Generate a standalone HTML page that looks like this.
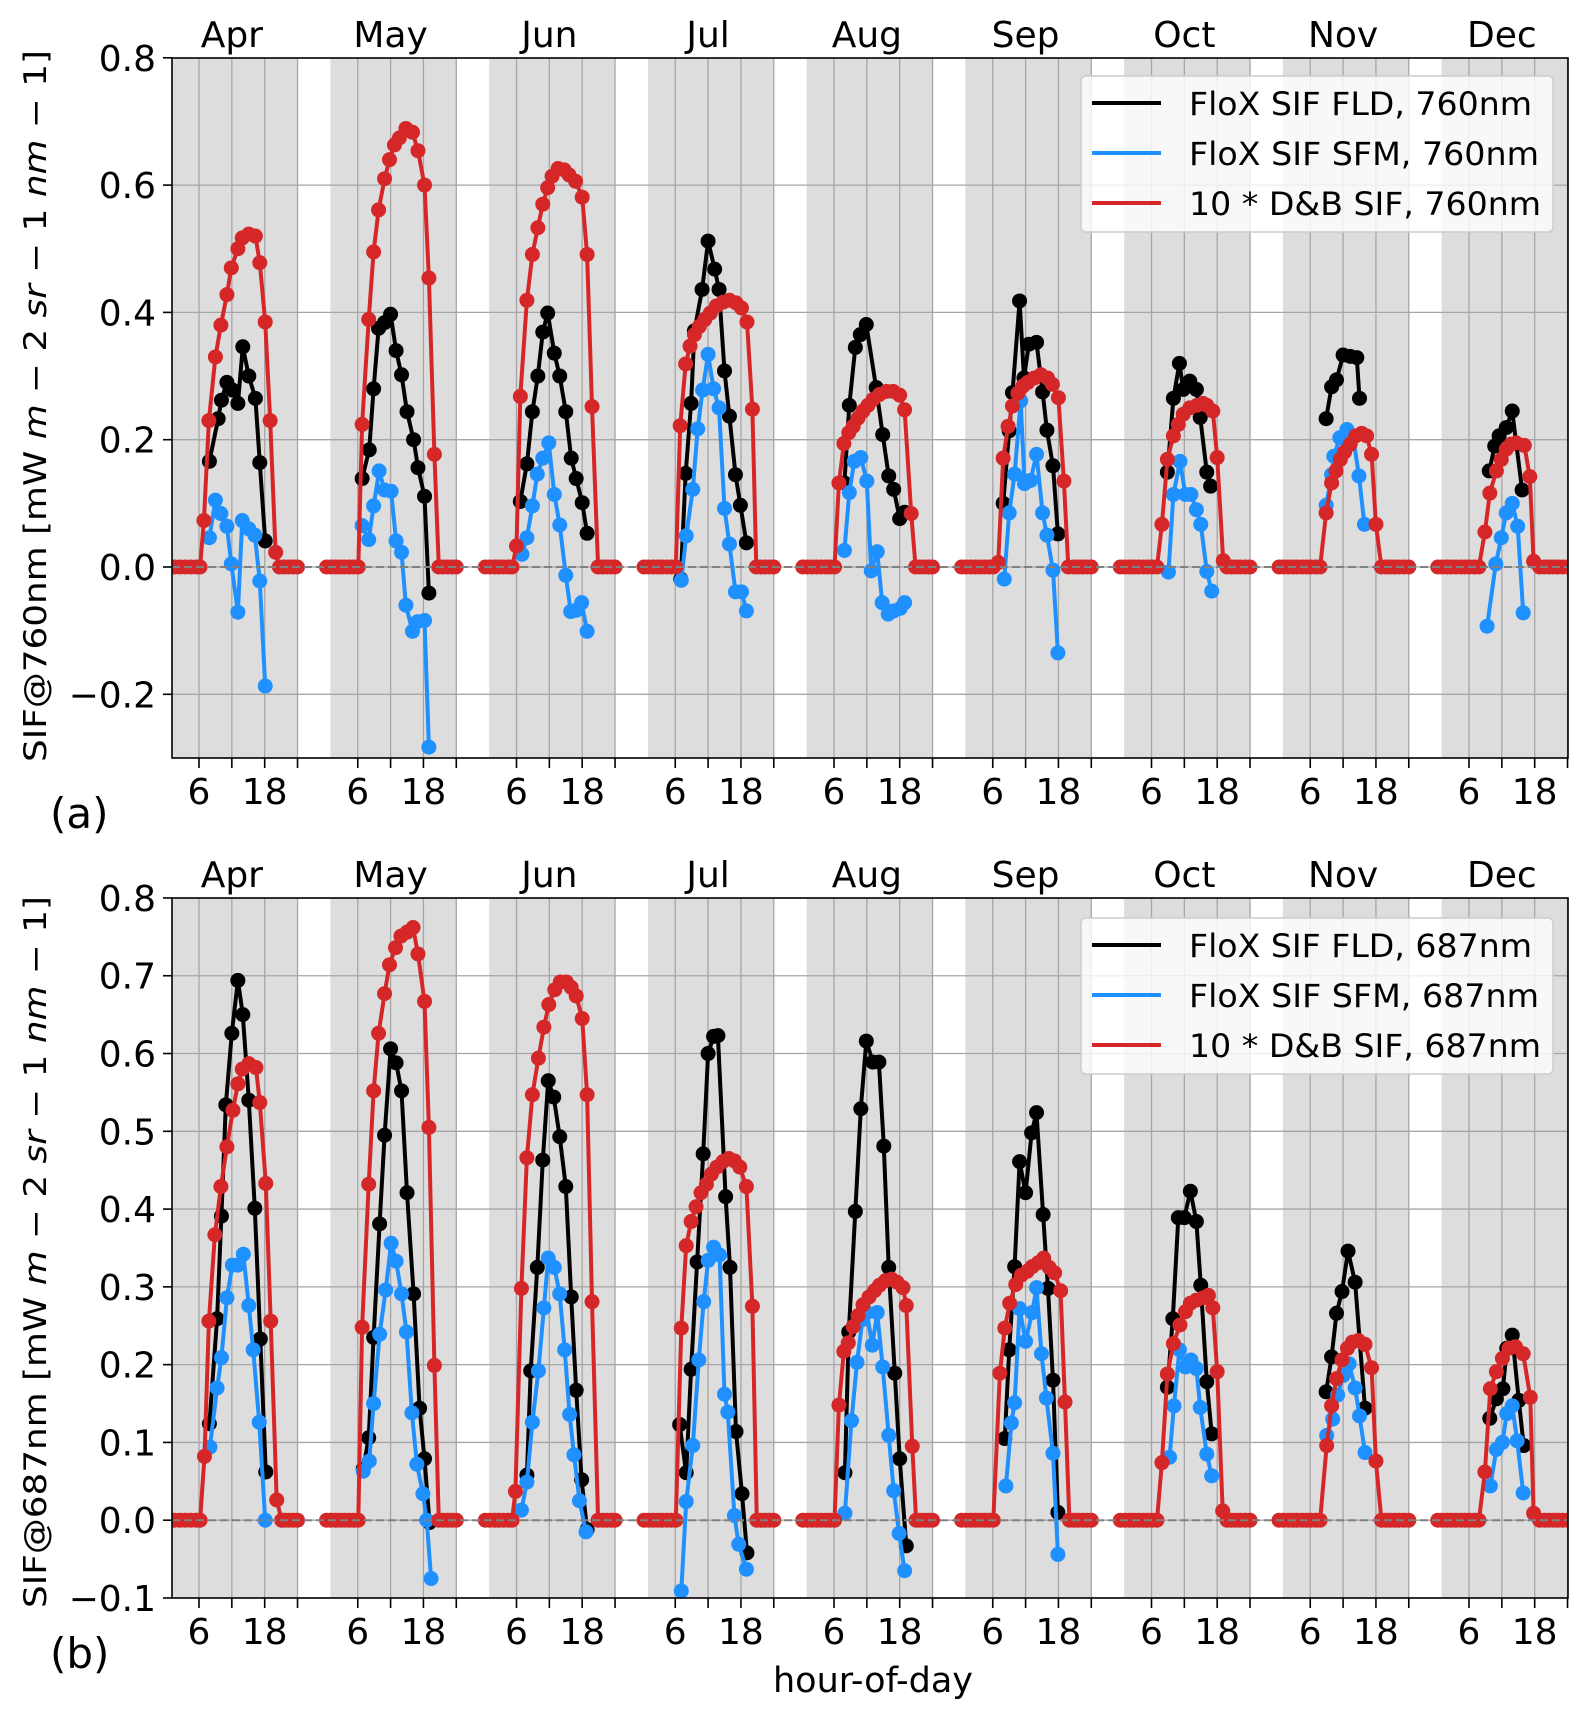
<!DOCTYPE html>
<html><head><meta charset="utf-8">
<style>
html,body{margin:0;padding:0;background:#fff;}
svg{display:block;font-family:"DejaVu Sans","Liberation Sans",sans-serif;}
</style></head>
<body>
<svg id="chart" width="1585" height="1712" viewBox="0 0 1585 1712" xmlns="http://www.w3.org/2000/svg">
<defs>
<clipPath id="clipA"><rect x="172" y="58" width="1396" height="700"/></clipPath>
<clipPath id="clipB"><rect x="172" y="898" width="1396" height="700"/></clipPath>
</defs>
</svg>
<script>
const months = ['Apr','May','Jun','Jul','Aug','Sep','Oct','Nov','Dec'];
const hourTicks = [6,12,18,24];
const hourLabels = [6,18];
const yTicksA = [0.8,0.6,0.4,0.2,0.0,-0.2];
const yTicksB = [0.8,0.7,0.6,0.5,0.4,0.3,0.2,0.1,0.0,-0.1];

const zeroPre = [
 [0.5,1.5,2.5,3.5,4.5,5.5,6.2],[0.3,1.1,2,2.8,3.6,4.5,5.3,6.1],[0.3,1.1,2,2.8,3.6,4.5,5.2],
 [0.3,1.1,2,2.8,3.6,4.5,5.3,6.1],[0.3,1.1,2,2.8,3.6,4.5,5.3,6.1],[0.3,1.1,2,2.8,3.6,4.5,5.3,6.1],
 [0.3,1.1,2,2.8,3.6,4.5,5.3,6.1,7.0],[0.3,1.1,2,2.8,3.6,4.5,5.3,6.1,7.0,7.8],[0.3,1.1,2,2.8,3.6,4.5,5.3,6.1,7.0,7.8]];
const zeroPost = [
 [21.6,22.4,23.2,24],[21.6,22.4,23.2,24],[21.7,22.5,23.3,24],[21.6,22.4,23.2,24],[21.7,22.5,23.3,24],
 [20.8,21.6,22.4,23.2,24],[20.6,21.4,22.2,23.1,24],[19.8,20.6,21.4,22.2,23.1,24],[19.8,20.6,21.4,22.2,23.1,24]];

// Panel (a) 760nm
const aDbH = [
 [6.9,7.8,9.0,10.0,11.1,11.9,13.1,13.9,15.1,16.3,17.1,18.1,19.0,20.0,20.7],
 [6.8,8.0,8.9,9.8,10.9,11.8,12.7,13.6,14.8,16.0,17.0,18.2,19.0,20.0,20.8],
 [6.0,6.7,7.9,8.9,9.9,10.8,11.7,12.5,13.6,14.7,15.6,16.8,18.0,18.9,19.8,20.9],
 [6.9,7.9,8.7,9.5,10.4,11.4,12.4,13.5,14.7,15.9,17.1,18.1,19.1,20.1,20.8],
 [6.9,7.8,8.7,9.5,10.4,11.3,12.2,13.1,14.3,15.6,16.8,18.0,18.9,20.1,20.9],
 [7.0,7.9,8.8,9.6,10.6,11.5,12.4,13.6,14.8,16.0,16.9,18.0,19.0,19.8],
 [7.9,8.9,10.0,10.9,11.8,13.0,14.3,15.4,16.1,17.2,18.0,19.1,19.8],
 [8.9,9.9,10.7,11.5,12.3,13.3,14.3,15.4,16.3,17.2,18.0,19.0],
 [8.9,9.8,11.0,11.9,12.8,13.7,14.6,16.1,17.1,17.8,18.9]];
const aDbV = [
 [0.073,0.23,0.33,0.38,0.428,0.47,0.5,0.517,0.523,0.52,0.478,0.385,0.23,0.023,0],
 [0.224,0.389,0.495,0.561,0.61,0.64,0.663,0.674,0.689,0.683,0.654,0.6,0.454,0.177,0],
 [0.033,0.268,0.419,0.491,0.533,0.570,0.596,0.614,0.626,0.624,0.616,0.606,0.581,0.491,0.252,0],
 [0.222,0.319,0.347,0.365,0.378,0.389,0.399,0.410,0.416,0.419,0.415,0.407,0.385,0.248,0],
 [0.132,0.194,0.211,0.221,0.234,0.245,0.254,0.263,0.271,0.276,0.276,0.270,0.247,0.084,0],
 [0.007,0.171,0.221,0.253,0.273,0.284,0.290,0.297,0.302,0.297,0.287,0.266,0.135,0],
 [0.067,0.169,0.206,0.224,0.240,0.250,0.254,0.257,0.254,0.245,0.172,0.010,0],
 [0.085,0.132,0.151,0.169,0.181,0.193,0.206,0.210,0.206,0.177,0.067,0],
 [0.055,0.116,0.151,0.169,0.185,0.193,0.195,0.191,0.142,0.009,0]];
const aFldH = [
 [7.9,9.5,10.1,11.1,12.1,13.1,14.0,15.1,16.3,17.1,18.1],
 [6.8,8.1,8.9,9.8,10.9,12.0,13.0,14.0,15.0,16.2,17.0,18.2,19.0],
 [6.7,7.9,8.9,9.9,10.8,11.7,12.9,13.9,15.0,16.0,16.9,18.0,18.9],
 [7.0,7.9,8.9,9.5,10.9,12.0,13.2,14.0,15.0,15.9,17.0,17.9,19.0],
 [7.9,8.8,9.9,10.8,11.9,13.7,14.9,16.0,16.9,18.0,18.9],
 [7.9,9.0,9.6,10.9,11.7,12.6,14.0,15.1,15.9,17.0,17.9],
 [8.9,10.0,11.1,11.8,13.0,14.2,14.9,16.1,16.8],
 [8.9,9.9,10.8,12.0,13.3,14.5,15.0],
 [9.7,10.7,11.5,12.8,13.9,15.7]];
const aFldV = [
 [0.166,0.233,0.262,0.29,0.278,0.257,0.346,0.300,0.265,0.164,0.041],
 [0.139,0.184,0.28,0.375,0.384,0.397,0.340,0.302,0.244,0.2,0.156,0.111,-0.041],
 [0.103,0.162,0.244,0.300,0.369,0.399,0.336,0.300,0.244,0.171,0.139,0.101,0.053],
 [-0.019,0.147,0.257,0.371,0.436,0.512,0.468,0.436,0.308,0.237,0.145,0.097,0.038],
 [0.132,0.254,0.345,0.365,0.381,0.282,0.208,0.143,0.122,0.076,0.086],
 [0.100,0.214,0.274,0.418,0.297,0.350,0.353,0.275,0.215,0.159,0.052],
 [0.149,0.265,0.320,0.279,0.292,0.279,0.235,0.149,0.127],
 [0.233,0.283,0.294,0.333,0.331,0.329,0.265],
 [0.151,0.190,0.206,0.219,0.245,0.121]];
const aSfmH = [
 [7.9,9.0,10.0,11.1,11.9,13.1,13.9,15.1,16.2,17.1,18.1],
 [6.8,8.0,8.9,9.9,10.9,12.1,13.0,14.0,14.8,16.0,16.9,18.2,19.0],
 [7.0,7.9,8.9,9.8,10.8,11.9,12.9,13.9,15.0,15.9,16.9,17.9,18.9],
 [7.1,8.0,9.2,10.1,11.0,12.0,13.0,14.0,15.0,15.9,17.0,18.1,19.0],
 [7.9,8.8,9.7,10.9,12.0,12.8,13.9,14.8,15.9,16.9,18.1,18.9],
 [8.1,9.0,10.0,11.1,11.8,12.9,14.0,15.1,15.9,17.0,17.9],
 [9.1,10.0,11.2,12.2,13.2,14.2,15.0,16.1,17.0],
 [8.9,9.9,10.3,11.4,12.7,13.8,14.9,15.9],
 [9.3,10.9,11.9,12.8,13.9,14.9,15.9]];
const aSfmV = [
 [0.046,0.105,0.084,0.064,0.005,-0.071,0.073,0.060,0.050,-0.022,-0.187],
 [0.065,0.043,0.096,0.151,0.121,0.119,0.041,0.023,-0.060,-0.101,-0.086,-0.084,-0.283],
 [0.020,0.046,0.096,0.146,0.171,0.195,0.114,0.066,-0.013,-0.070,-0.068,-0.056,-0.101],
 [-0.021,0.049,0.122,0.217,0.278,0.334,0.280,0.250,0.092,0.036,-0.039,-0.039,-0.069],
 [0.026,0.117,0.166,0.172,0.135,-0.006,0.024,-0.056,-0.074,-0.069,-0.065,-0.056],
 [-0.019,0.085,0.146,0.261,0.131,0.136,0.177,0.085,0.050,-0.005,-0.135],
 [-0.008,0.114,0.166,0.114,0.114,0.090,0.067,-0.007,-0.038],
 [0.097,0.145,0.174,0.203,0.216,0.206,0.143,0.067],
 [-0.093,0.005,0.046,0.085,0.100,0.064,-0.072]];

// Panel (b) 687nm
const bDbH = [
 [7.0,7.8,8.9,10.0,11.1,12.2,13.1,13.9,15.1,16.4,17.1,18.2,19.1,20.2,21.1],
 [6.8,8.0,8.9,9.8,10.9,11.8,12.9,13.9,15.0,16.1,17.0,18.2,19.0,20.0,20.8],
 [5.8,6.9,7.9,8.9,10.0,11.0,11.9,13.0,14.0,15.1,16.0,16.9,18.0,18.9,19.8,20.9],
 [7.1,8.0,8.9,9.8,10.7,11.7,12.6,13.6,14.7,15.8,16.8,17.8,19.0,20.1,20.9],
 [6.9,7.8,8.6,9.5,10.4,11.3,12.4,13.4,14.3,15.4,16.5,17.5,18.6,19.2,20.3,21.0],
 [7.3,8.2,9.1,10.2,11.2,12.3,13.2,14.3,15.3,16.3,17.3,18.4,19.2,20.0],
 [7.9,8.9,10.0,11.2,12.2,13.1,14.2,15.5,16.4,17.2,18.0,19.0,19.8],
 [9.0,9.9,10.8,11.8,12.8,13.7,14.8,16.0,17.2,18.0,19.0],
 [8.9,9.9,11.0,12.1,13.3,14.5,15.9,17.2,17.8,18.9]];
const bDbV = [
 [0.082,0.256,0.367,0.429,0.480,0.527,0.561,0.580,0.587,0.582,0.537,0.433,0.256,0.026,0],
 [0.248,0.432,0.552,0.626,0.677,0.714,0.736,0.751,0.756,0.762,0.728,0.667,0.505,0.199,0],
 [0.037,0.298,0.466,0.547,0.594,0.634,0.663,0.682,0.692,0.692,0.685,0.674,0.645,0.547,0.281,0],
 [0.247,0.353,0.384,0.403,0.421,0.432,0.445,0.454,0.461,0.465,0.462,0.454,0.429,0.275,0],
 [0.148,0.217,0.228,0.249,0.263,0.277,0.287,0.295,0.302,0.308,0.310,0.306,0.299,0.276,0.095,0],
 [0.189,0.247,0.279,0.303,0.315,0.320,0.326,0.331,0.337,0.325,0.318,0.295,0.152,0],
 [0.074,0.188,0.227,0.251,0.268,0.279,0.283,0.286,0.289,0.273,0.191,0.012,0],
 [0.096,0.147,0.182,0.206,0.221,0.229,0.231,0.226,0.196,0.076,0],
 [0.062,0.169,0.191,0.208,0.221,0.223,0.214,0.158,0.009,0]];
const bFldH = [
 [7.9,9.3,10.1,10.9,12.0,13.1,14.0,15.1,16.2,17.2,18.2],
 [7.0,8.0,8.9,10.0,10.9,12.0,13.0,14.0,15.0,16.2,17.3,18.2,19.1],
 [7.9,8.6,9.8,10.8,11.8,12.8,13.9,15.0,16.0,16.9,17.9,18.9],
 [6.8,8.0,8.9,10.0,11.1,12.0,13.0,13.8,15.2,16.0,17.1,18.2,19.1],
 [8.0,8.7,9.9,10.9,11.9,13.1,14.2,15.1,16.0,17.1,18.0,19.2],
 [8.2,9.0,10.0,10.9,12.0,13.1,14.0,15.2,16.1,17.0,17.9],
 [8.9,9.9,10.9,12.0,13.1,14.2,15.0,16.1,17.0],
 [8.9,9.9,10.8,11.8,12.9,14.2,16.0],
 [9.8,11.0,12.2,12.9,13.9,15.1,16.0]];
const bFldV = [
 [0.124,0.259,0.391,0.534,0.626,0.694,0.650,0.540,0.401,0.233,0.062],
 [0.066,0.106,0.235,0.381,0.495,0.606,0.588,0.552,0.421,0.291,0.144,0.079,-0.003],
 [0.058,0.192,0.325,0.463,0.565,0.544,0.493,0.429,0.287,0.167,0.052,-0.012],
 [0.123,0.061,0.194,0.332,0.471,0.600,0.622,0.623,0.416,0.325,0.114,0.034,-0.042],
 [0.061,0.242,0.397,0.529,0.616,0.589,0.589,0.481,0.325,0.189,0.079,-0.033],
 [0.105,0.219,0.326,0.461,0.421,0.498,0.524,0.393,0.298,0.180,0.010],
 [0.171,0.259,0.389,0.389,0.423,0.384,0.302,0.178,0.111],
 [0.165,0.210,0.266,0.294,0.346,0.306,0.144],
 [0.131,0.156,0.169,0.221,0.238,0.154,0.096]];
const bSfmH = [
 [8.0,9.3,10.1,11.1,12.1,13.1,14.1,15.1,15.9,17.0,18.1],
 [7.0,8.1,8.9,10.0,11.1,12.1,13.0,14.0,14.9,15.9,16.8,17.9,18.6,19.4],
 [6.9,7.9,8.9,10.0,11.0,11.8,12.9,13.9,14.8,15.7,16.5,17.5,18.7],
 [7.1,8.0,9.2,10.3,11.2,12.0,13.0,14.1,15.0,15.6,16.8,17.6,19.0],
 [8.0,9.2,10.2,11.2,12.0,13.0,13.9,14.9,16.0,16.9,17.9,18.9],
 [8.4,9.4,10.0,10.9,12.0,13.2,14.0,14.9,15.8,17.0,17.9],
 [9.3,10.1,11.1,12.2,13.2,14.2,14.9,16.1,17.0],
 [9.0,10.1,11.0,12.0,13.1,14.2,15.0,16.0],
 [9.9,11.0,12.1,12.9,13.9,14.8,15.9]];
const bSfmV = [
 [0.094,0.170,0.209,0.286,0.328,0.328,0.342,0.276,0.219,0.126,0.0],
 [0.063,0.076,0.150,0.239,0.296,0.356,0.333,0.291,0.242,0.138,0.072,0.034,0.0,-0.075],
 [0.013,0.049,0.126,0.192,0.273,0.337,0.325,0.291,0.219,0.136,0.084,0.025,-0.015],
 [-0.091,0.024,0.096,0.206,0.281,0.334,0.351,0.341,0.162,0.139,0.006,-0.031,-0.063],
 [0.009,0.128,0.203,0.258,0.267,0.225,0.267,0.197,0.109,0.038,-0.017,-0.065],
 [0.044,0.125,0.151,0.272,0.230,0.267,0.299,0.214,0.157,0.086,-0.044],
 [0.081,0.147,0.219,0.197,0.206,0.195,0.145,0.085,0.057],
 [0.109,0.130,0.161,0.186,0.201,0.170,0.134,0.087],
 [0.044,0.091,0.100,0.137,0.147,0.102,0.035]];

const NS = 'http://www.w3.org/2000/svg';
const svg = document.getElementById('chart');
function mk(parent, tag, attrs, text) {
  const el = document.createElementNS(NS, tag);
  for (const k in attrs) el.setAttribute(k, attrs[k]);
  if (text !== undefined) el.textContent = text;
  parent.appendChild(el);
  return el;
}
const X0 = 172, X1 = 1568;
function xScale(m, h) { return 199 + m * 158.75 + (h - 6) * 5.474; }

const panels = [
 {key:'a', top:58, bottom:758, y:v => 567 - v*636.5, ticks:yTicksA, clip:'clipA',
  fld:[aFldH,aFldV], sfm:[aSfmH,aSfmV], db:[aDbH,aDbV], nm:'760nm', tag:'(a)', tagY:828,
  labelCY:406, legTop:76},
 {key:'b', top:898, bottom:1598, y:v => 1520.2 - v*777.8, ticks:yTicksB, clip:'clipB',
  fld:[bFldH,bFldV], sfm:[bSfmH,bSfmV], db:[bDbH,bDbV], nm:'687nm', tag:'(b)', tagY:1668,
  labelCY:1252, legTop:918}
];

function fmt(v){ const s = v.toFixed(1); return v < 0 ? '\u2212' + s.slice(1) : s; }

panels.forEach(p => {
  const g = mk(svg, 'g', {});
  
  
  const plot = mk(g, 'g', {'clip-path': 'url(#' + p.clip + ')'});
  
  
  months.forEach((mo, m) => {
    const xa = xScale(m, 1), xb = xScale(m, 24);
    const r = mk(plot, 'rect', {x: xa, y: p.top, width: xb - xa, height: p.bottom - p.top, fill: '#dddddd'});
    
    
  });
  p.ticks.forEach(t => {
    const y = p.y(t);
    const l = mk(plot, 'line', {x1: X0, x2: X1, y1: y, y2: y, stroke: '#a6a6a6', 'stroke-width': 1.3});
    
    
  });
  months.forEach((mo, m) => {
    hourTicks.forEach(h => {
      const x = xScale(m, h);
      const l = mk(plot, 'line', {x1: x, x2: x, y1: p.top, y2: p.bottom, stroke: '#a6a6a6', 'stroke-width': 1.3});
      
      
    });
  });
  const series = [
    {name:'flox-fld', col:'#000000', H:p.fld[0], V:p.fld[1], zeros:false},
    {name:'flox-sfm', col:'#1e90ff', H:p.sfm[0], V:p.sfm[1], zeros:false},
    {name:'db-sif', col:'#d62728', H:p.db[0], V:p.db[1], zeros:true}
  ];
  series.forEach(s => {
    const sg = mk(plot, 'g', {});
    
    
    months.forEach((mo, m) => {
      let H = s.H[m], V = s.V[m];
      if (s.zeros) {
        H = zeroPre[m].concat(H, zeroPost[m]);
        V = zeroPre[m].map(() => 0).concat(V, zeroPost[m].map(() => 0));
      }
      const pts = H.map((h, i) => xScale(m, h).toFixed(1) + ',' + p.y(V[i]).toFixed(1)).join(' ');
      const pl = mk(sg, 'polyline', {points: pts, fill: 'none', stroke: s.col, 'stroke-width': 4, 'stroke-linejoin': 'round'});
      
      
      H.forEach((h, i) => {
        const c = mk(sg, 'circle', {cx: xScale(m, h), cy: p.y(V[i]), r: 7.5, fill: s.col});
        
        
      });
    });
  });
  const z = mk(plot, 'line', {x1: X0, x2: X1, y1: p.y(0), y2: p.y(0), stroke: '#808080', 'stroke-width': 2, 'stroke-dasharray': '8,4'});
  
  
  const fr = mk(g, 'rect', {x: X0, y: p.top, width: X1 - X0, height: p.bottom - p.top, fill: 'none', stroke: '#000', 'stroke-width': 1.6});
  
  
  p.ticks.forEach(t => {
    const y = p.y(t);
    const tl = mk(g, 'line', {x1: X0 - 9, x2: X0, y1: y, y2: y, stroke: '#000', 'stroke-width': 1.6});
    
    
    const tx = mk(g, 'text', {x: 156, y: y + 13, 'text-anchor': 'end', 'font-size': 36, fill: '#000'}, fmt(t));
    
    
  });
  months.forEach((mo, m) => {
    hourTicks.forEach(h => {
      const x = xScale(m, h);
      const tl = mk(g, 'line', {x1: x, x2: x, y1: p.bottom, y2: p.bottom + 10, stroke: '#000', 'stroke-width': 1.6});
      
      
    });
    hourLabels.forEach(h => {
      const tx = mk(g, 'text', {x: xScale(m, h), y: p.bottom + 46, 'text-anchor': 'middle', 'font-size': 36, fill: '#000'}, String(h));
      
      
    });
    const ml = mk(g, 'text', {x: xScale(m, 12), y: p.top - 11, 'text-anchor': 'middle', 'font-size': 36, fill: '#000'}, mo);
    
    
  });
  const yl = mk(g, 'text', {x: 0, y: 0, transform: 'translate(46,' + p.labelCY + ') rotate(-90)', 'text-anchor': 'middle', 'font-size': 31, fill: '#000', textLength: 712, lengthAdjust: 'spacingAndGlyphs'});
  
  
  const parts = [['SIF@' + p.nm + '  [mW ', false], ['m', true], [' \u2212 2 ', false], ['sr', true], [' \u2212 1 ', false], ['nm', true], [' \u2212 1]', false]];
  parts.forEach(pt => {
    const ts = mk(yl, 'tspan', pt[1] ? {'font-style': 'italic'} : {}, pt[0]);
    
    
  });
  const tg = mk(g, 'text', {x: 50, y: p.tagY, 'font-size': 42, fill: '#000'}, p.tag);
  
  
  const lg = mk(g, 'g', {});
  
  
  const box = mk(lg, 'rect', {x: 1081, y: p.legTop, width: 472, height: 156, rx: 5, fill: '#ffffff', 'fill-opacity': 0.8, stroke: '#cccccc', 'stroke-width': 1.5});
  
  
  const entries = [['FloX SIF FLD, ' + p.nm, '#000000', 343], ['FloX SIF SFM, ' + p.nm, '#1e90ff', 350], ['10 * D&B SIF, ' + p.nm, '#d62728', 352]];
  entries.forEach((e, i) => {
    const yy = p.legTop + 27 + i * 50;
    const ln = mk(lg, 'line', {x1: 1092, x2: 1161, y1: yy, y2: yy, stroke: e[1], 'stroke-width': 4});
    
    
    const tx = mk(lg, 'text', {x: 1189, y: yy + 12, 'font-size': 32, fill: '#000', textLength: e[2], lengthAdjust: 'spacingAndGlyphs'}, e[0]);
    
    
  });
});
const xt = mk(svg, 'text', {x: 873, y: 1692, 'text-anchor': 'middle', 'font-size': 35, fill: '#000'}, 'hour-of-day');


</script>
</body></html>
